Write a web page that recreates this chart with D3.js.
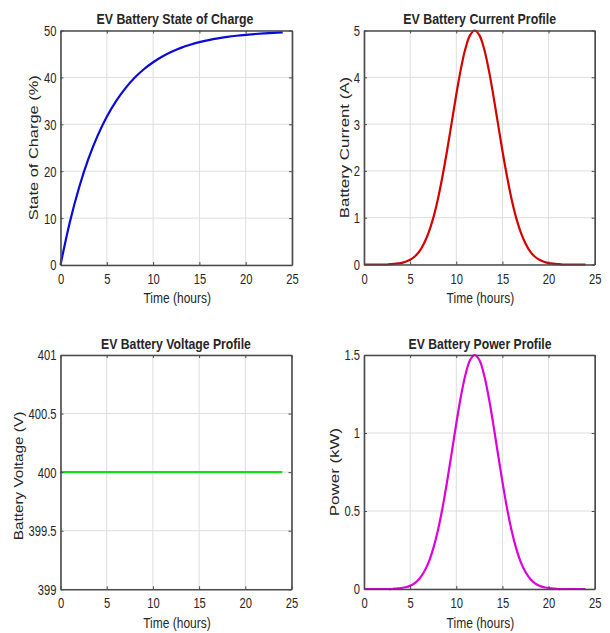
<!DOCTYPE html>
<html><head><meta charset="utf-8">
<script src="https://cdn.jsdelivr.net/npm/d3@7"></script>
<style>
html,body{margin:0;padding:0;background:#fff;}
svg{display:block;}
text{font-family:"Liberation Sans", Arial, sans-serif;fill:#262626;}
</style></head>
<body>
<svg id="fig" width="610" height="633"></svg>
<script>
// ---- data ----
const halfHours = [0,0.5,1,1.5,2,2.5,3,3.5,4,4.5,5,5.5,6,6.5,7,7.5,8,8.5,9,9.5,10,10.5,11,11.5,12,12.5,13,13.5,14,14.5,15,15.5,16,16.5,17,17.5,18,18.5,19,19.5,20,20.5,21,21.5,22,22.5,23,23.5,24];
const hours = [0,1,2,3,4,5,6,7,8,9,10,11,12,13,14,15,16,17,18,19,20,21,22,23,24];
const socValues = [0,9.06,16.48,22.56,27.53,31.61,34.94,37.67,39.91,41.74,43.23,44.46,45.46,46.29,46.96,47.51,47.96,48.33,48.63,48.88,49.08,49.25,49.39,49.50,49.59];
const currentValues = [0,0,0,0,0,0,0.01,0.02,0.03,0.06,0.10,0.17,0.28,0.45,0.68,0.99,1.39,1.88,2.43,3.03,3.63,4.18,4.62,4.90,5.00,4.90,4.62,4.18,3.63,3.03,2.43,1.88,1.39,0.99,0.68,0.45,0.28,0.17,0.10,0.06,0.03,0.02,0.01,0,0,0,0,0,0];
const voltageValues = [400,400,400,400,400,400,400,400,400,400,400,400,400,400,400,400,400,400,400,400,400,400,400,400,400];
const powerValues = [0,0,0,0,0,0,0,0.003,0.006,0.011,0.021,0.038,0.066,0.109,0.171,0.259,0.374,0.518,0.687,0.872,1.060,1.234,1.375,1.468,1.5,1.468,1.375,1.234,1.060,0.872,0.687,0.518,0.374,0.259,0.171,0.109,0.066,0.038,0.021,0.011,0.006,0.003,0,0,0,0,0,0,0];
const xTicks = [0,5,10,15,20,25];
const socTicks = [0,10,20,30,40,50];
const currentTicks = [0,1,2,3,4,5];
const voltageTicks = [399,399.5,400,400.5,401];
const powerTicks = [0,0.5,1,1.5];
const titles = ["EV Battery State of Charge","EV Battery Current Profile","EV Battery Voltage Profile","EV Battery Power Profile"];
const yLabels = ["State of Charge (%)","Battery Current (A)","Battery Voltage (V)","Power (kW)"];
const xLabel = "Time (hours)";

const SX = 0.8; // horizontal squeeze of the reference image

const panels = [
  {box:[60.5,292,30.5,265], t:hours, v:socValues, dom:[0,50], ticks:socTicks, color:"#0a0ad8", title:titles[0], ylab:yLabels[0], ylabX:38, titleY:23.5, xlabY:303, tW:157, yW:145, yC:147.7, tC:175},
  {box:[364,594.7,30.5,264.5], t:halfHours, v:currentValues, dom:[0,5], ticks:currentTicks, color:"#d40000", title:titles[1], ylab:yLabels[1], ylabX:348.5, titleY:23.5, xlabY:303, tW:153, yW:141.5, yC:147.5, tC:479.7},
  {box:[60.5,291.5,355,589.3], t:hours, v:voltageValues, dom:[399,401], ticks:voltageTicks, color:"#10e010", title:titles[2], ylab:yLabels[2], ylabX:22.5, titleY:349, xlabY:628, tW:150, yW:128.5, yC:476, tC:176},
  {box:[364,594.7,355,589], t:halfHours, v:powerValues, dom:[0,1.5], ticks:powerTicks, color:"#dd00dd", title:titles[3], ylab:yLabels[3], ylabX:338.5, titleY:349, xlabY:628, tW:143, yW:88.5, yC:472, tC:480}
];

const svg = d3.select("#fig");

panels.forEach(p => {
  const [x0,x1,y0,y1] = p.box;
  const x = d3.scaleLinear().domain([0,25]).range([x0,x1]);
  const y = d3.scaleLinear().domain(p.dom).range([y1,y0]);
  const g = svg.append("g");

  // grid
  g.selectAll(".gx").data(xTicks).join("line")
    .attr("x1",d=>x(d)).attr("x2",d=>x(d)).attr("y1",y0).attr("y2",y1)
    .attr("stroke","#dedede").attr("stroke-width",1);
  g.selectAll(".gy").data(p.ticks).join("line")
    .attr("x1",x0).attr("x2",x1).attr("y1",d=>y(d)).attr("y2",d=>y(d))
    .attr("stroke","#dedede").attr("stroke-width",1);

  // data line
  const line = d3.line().x((d,i)=>x(p.t[i])).y(d=>y(d)).curve(d3.curveCatmullRom);
  g.append("path").datum(p.v).attr("d",line)
    .attr("fill","none").attr("stroke",p.color).attr("stroke-width",2.2)
    .attr("stroke-linejoin","round");

  // axes (ticks inside)
  const fmt = d => String(d);
  const bottom = g.append("g").attr("transform",`translate(0,${y1})`)
    .call(d3.axisBottom(x).tickValues(xTicks).tickSizeInner(-3).tickSizeOuter(0).tickFormat(fmt));
  const top = g.append("g").attr("transform",`translate(0,${y0})`)
    .call(d3.axisTop(x).tickValues(xTicks).tickSizeInner(-3).tickSizeOuter(0).tickFormat(""));
  const left = g.append("g").attr("transform",`translate(${x0},0)`)
    .call(d3.axisLeft(y).tickValues(p.ticks).tickSizeInner(-3).tickSizeOuter(0).tickFormat(fmt));
  const right = g.append("g").attr("transform",`translate(${x1},0)`)
    .call(d3.axisRight(y).tickValues(p.ticks).tickSizeInner(-3).tickSizeOuter(0).tickFormat(""));
  [bottom,top,left,right].forEach(a=>{
    a.select(".domain").attr("stroke","#4a4a4a").attr("stroke-width",1.6);
    a.selectAll(".tick line").attr("stroke","#4a4a4a").attr("stroke-width",1);
    a.selectAll("text").attr("fill","#262626").attr("font-size","14px")
      .attr("font-family",'"Liberation Sans", Arial, sans-serif');
  });
  bottom.selectAll(".tick text").attr("y",0).attr("dy",0)
    .attr("transform",`translate(0,19) scale(${SX},1)`);
  left.selectAll(".tick text").attr("x",0).attr("dy","0.35em")
    .attr("transform",`translate(-4,0) scale(${SX},1)`);

  // title
  const tt = svg.append("text").text(p.title)
    .attr("text-anchor","middle").attr("font-weight","bold").attr("font-size","15px")
    .attr("fill","#000");
  const tLen = tt.node().getComputedTextLength();
  tt.attr("transform",`translate(${p.tC},${p.titleY}) scale(${p.tW/tLen},1)`);
  // x label
  svg.append("text").text(xLabel)
    .attr("text-anchor","middle").attr("font-size","15px")
    .attr("transform",`translate(${(x0+x1)/2+1},${p.xlabY}) scale(${SX},1)`);
  // y label
  const yl = svg.append("text").text(p.ylab)
    .attr("text-anchor","middle").attr("font-size","15px");
  const yLen = yl.node().getComputedTextLength();
  yl.attr("transform",`translate(${p.ylabX},${p.yC}) scale(${SX},${p.yW/yLen}) rotate(-90)`);
});
</script>
</body></html>
